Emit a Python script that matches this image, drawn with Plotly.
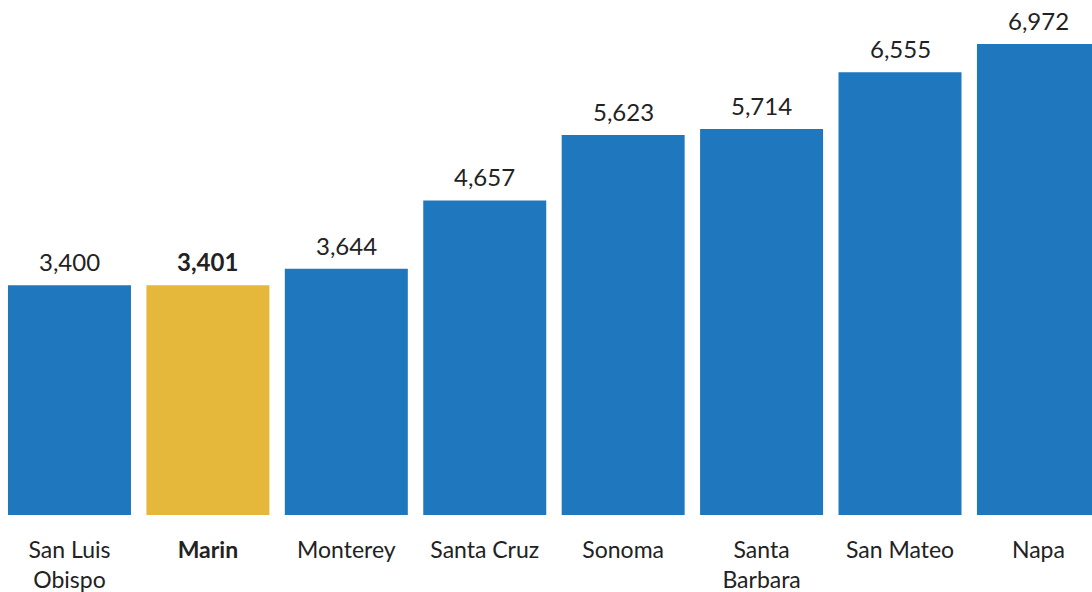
import plotly.graph_objects as go

counties = ["San Luis Obispo", "Marin", "Monterey", "Santa Cruz", "Sonoma",
            "Santa Barbara", "San Mateo", "Napa"]
tick_labels = ["San Luis<br>Obispo", "<b>Marin</b>", "Monterey", "Santa Cruz",
               "Sonoma", "Santa<br>Barbara", "San Mateo", "Napa"]
values = [3400, 3401, 3644, 4657, 5623, 5714, 6555, 6972]
highlight = "Marin"

BLUE = "#1f77bd"
GOLD = "#e5b73b"
TEXT = "#222222"
FONT = "Lato, 'Noto Sans', sans-serif"

colors = [GOLD if c == highlight else BLUE for c in counties]

fig = go.Figure(go.Bar(
    x=counties,
    y=values,
    marker=dict(color=colors, line=dict(width=0)),
    hoverinfo="skip",
))

for c, v in zip(counties, values):
    label = f"{v:,}"
    if c == highlight:
        label = f"<b>{label}</b>"
    fig.add_annotation(
        x=c, y=v, text=label, showarrow=False,
        yanchor="bottom", yshift=7,
        font=dict(family=FONT, size=24, color=TEXT),
    )

fig.update_layout(
    width=1092, height=592,
    margin=dict(l=0, r=0, t=0, b=77),
    paper_bgcolor="white",
    plot_bgcolor="white",
    bargap=0.1115,
    showlegend=False,
    font=dict(family=FONT, size=23, color=TEXT),
    xaxis=dict(
        range=[-0.502, 7.387],
        tickmode="array",
        tickvals=counties,
        ticktext=tick_labels,
        showgrid=False,
        showline=False,
        zeroline=False,
        ticks="outside",
        ticklen=14,
        tickcolor="rgba(0,0,0,0)",
        tickfont=dict(family=FONT, size=23, color=TEXT),
    ),
    yaxis=dict(
        range=[0, 7623],
        visible=False,
        showgrid=False,
        zeroline=False,
    ),
)

fig.write_html("out.html")
